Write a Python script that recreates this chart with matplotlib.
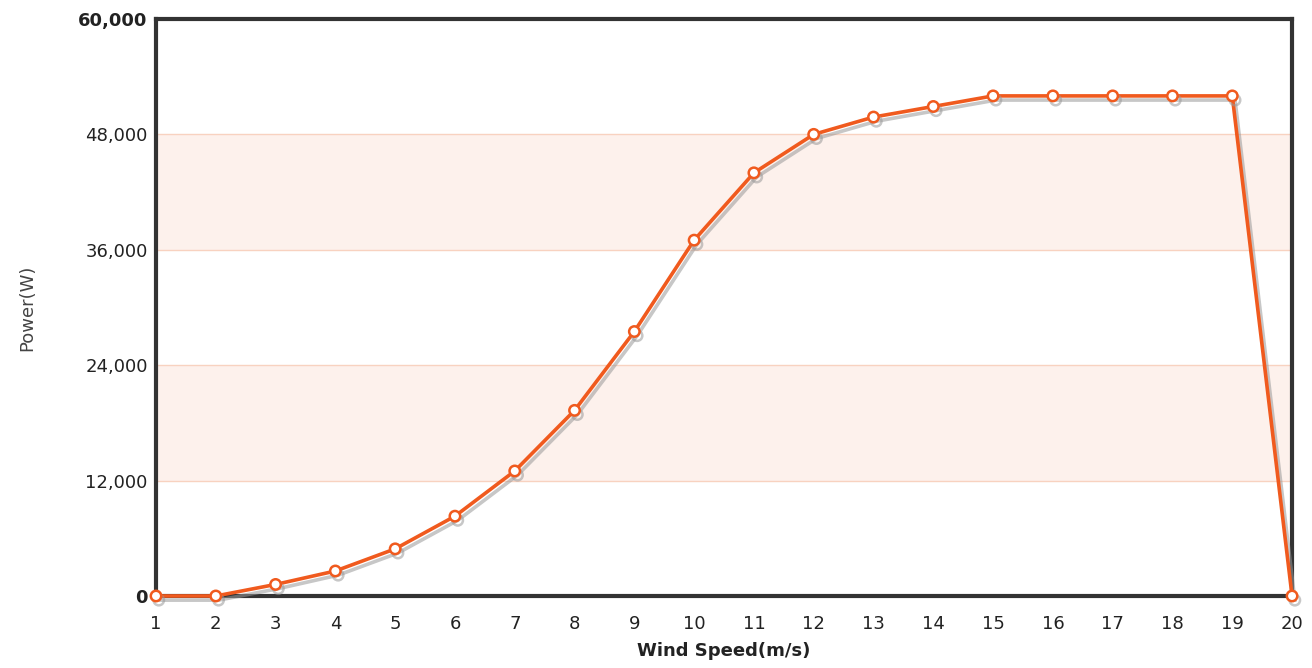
import matplotlib
matplotlib.use("Agg")
import matplotlib.pyplot as plt
import matplotlib.patheffects as pe
from matplotlib.ticker import FuncFormatter

# wind speed (m/s) vs power (W)
wind_speed = [1, 2, 3, 4, 5, 6, 7, 8, 9, 10, 11, 12, 13, 14, 15, 16, 17, 18, 19, 20]
power = [0, 0, 1200, 2600, 4900, 8300, 13000, 19300, 27500, 37000,
         44000, 48000, 49800, 50900, 52000, 52000, 52000, 52000, 52000, 0]
y_ticks = [0, 12000, 24000, 36000, 48000, 60000]

line_col = "#f05a1e"
frame_col = "#333333"

fig = plt.figure(figsize=(13.12, 6.68), dpi=100)
ax = fig.add_axes([0.1189, 0.1078, 0.8659, 0.8638])

# shaded bands between alternate gridlines
for lo, hi in [(12000, 24000), (36000, 48000)]:
    ax.axhspan(lo, hi, color="#fdf1ec", zorder=0, lw=0)
for t in y_ticks[1:-1]:
    ax.axhline(t, color="#f8d2c0", lw=1, zorder=1)

ax.plot(wind_speed, power, color=line_col, lw=2.6, zorder=3,
        marker="o", markersize=7.5, markerfacecolor="white",
        markeredgecolor=line_col, markeredgewidth=1.8,
        path_effects=[pe.SimpleLineShadow(offset=(2, -3), shadow_color="#999999", alpha=0.55),
                      pe.Normal()],
        clip_on=False)

ax.set_xlim(1, 20)
ax.set_ylim(0, 60000)
ax.set_xticks(wind_speed)
ax.set_yticks(y_ticks)
ax.yaxis.set_major_formatter(FuncFormatter(lambda v, p: f"{int(v):,}"))

for s in ax.spines.values():
    s.set_color(frame_col)
    s.set_linewidth(3)
ax.spines["top"].set_zorder(4)

ax.tick_params(axis="x", length=0, labelsize=13, colors="#222222", pad=14)
ax.tick_params(axis="y", length=0, labelsize=13, colors="#222222", pad=6)
for lab in ax.get_yticklabels():
    if lab.get_text() in ("0", "60,000"):
        lab.set_fontweight("bold")

ax.set_xlabel("Wind Speed(m/s)", fontsize=13, fontweight="bold", color="#222222", labelpad=6)
ax.set_ylabel("Power(W)", fontsize=13, color="#444444", labelpad=30)

fig.savefig("out.png", dpi=100)
